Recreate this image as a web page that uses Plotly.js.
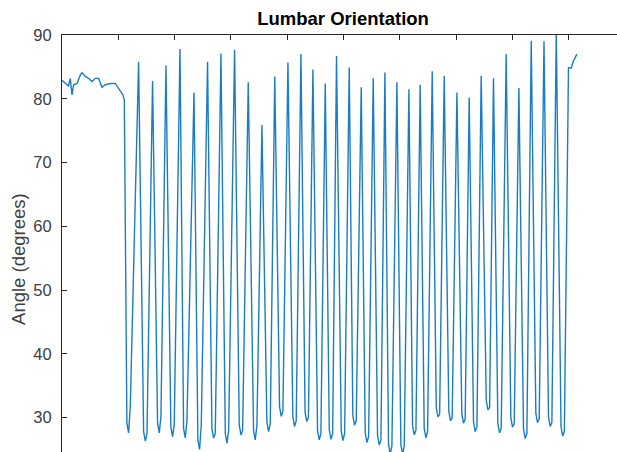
<!DOCTYPE html>
<html>
<head>
<meta charset="utf-8">
<script src="https://cdn.plot.ly/plotly-3.0.1.min.js"></script>
<style>
html,body{margin:0;padding:0;background:#fff;overflow:hidden;}
#chart{width:617px;height:452px;}
</style>
</head>
<body>
<div id="chart"></div>
<script>
// Time (arbitrary units, one top tick = 10) and angle (degrees)
const time = [
  0.00, 0.59, 1.17, 1.47, 1.78, 2.06, 2.66, 3.25, 3.55, 4.14, 4.72, 5.33, 5.91, 6.50, 7.10, 7.69, 8.58, 9.47, 10.05, 10.48, 10.83, 11.07,
  11.53, 11.83, 12.13, 13.61,
  14.50, 14.80, 15.10, 16.09,
  16.98, 17.28, 17.58, 18.47,
  19.34, 19.64, 19.94, 20.96,
  21.60, 21.90, 22.20, 23.45,
  24.14, 24.44, 24.74, 25.86,
  26.63, 26.93, 27.23, 28.24,
  29.01, 29.31, 29.61, 30.66,
  31.49, 31.79, 32.09, 33.09,
  34.03, 34.33, 34.63, 35.52,
  36.40, 36.70, 37.00, 37.80,
  38.65, 38.95, 39.25, 40.14,
  41.01, 41.31, 41.61, 42.45,
  43.18, 43.48, 43.78, 44.58,
  45.40, 45.70, 46.00, 46.77,
  47.48, 47.78, 48.08, 48.77,
  49.61, 49.91, 50.21, 51.03,
  51.67, 51.97, 52.27, 53.16,
  53.87, 54.17, 54.47, 55.29,
  56.06, 56.36, 56.66, 57.37,
  58.01, 58.31, 58.61, 59.50,
  60.20, 60.50, 60.80, 61.63,
  62.28, 62.58, 62.88, 63.63,
  64.35, 64.65, 64.95, 65.77,
  66.49, 66.79, 67.09, 67.90,
  68.72, 69.02, 69.32, 70.16,
  71.03, 71.33, 71.63, 72.34,
  73.11, 73.41, 73.71, 74.47,
  75.37, 75.67, 75.97, 76.66,
  77.43, 77.73, 78.03, 78.91,
  79.74, 80.04, 80.34, 81.17,
  81.99, 82.29, 82.59, 83.36,
  84.18, 84.48, 84.78, 85.63,
  86.43, 86.73, 87.03, 87.81,
  88.65, 88.95, 89.25, 89.98, 90.46, 90.81, 91.47
];
const angle = [
  82.9, 82.4, 82.0, 83.2, 80.6, 82.2, 82.4, 83.7, 84.1, 83.5, 83.2, 82.7, 83.2, 83.2, 81.8, 82.2, 82.4, 82.4, 81.6, 80.9, 80.6, 79.8,
  29.1, 27.6, 31.7, 85.8,
  27.8, 26.3, 27.5, 82.8,
  29.1, 27.6, 30.2, 85.2,
  28.5, 27.0, 28.9, 87.8,
  28.3, 26.8, 29.5, 81.0,
  26.5, 25.0, 28.8, 85.8,
  28.3, 26.8, 27.5, 87.1,
  27.5, 26.0, 28.0, 87.7,
  28.8, 27.3, 28.0, 82.6,
  28.0, 26.5, 28.8, 75.9,
  29.3, 27.8, 29.0, 83.5,
  31.7, 30.2, 31.0, 85.7,
  30.1, 28.6, 29.5, 87.0,
  30.9, 29.4, 30.0, 84.6,
  28.0, 26.5, 27.5, 82.4,
  28.1, 26.6, 27.5, 86.7,
  27.9, 26.4, 27.5, 84.9,
  30.3, 28.8, 29.5, 81.8,
  27.6, 26.1, 27.0, 83.2,
  27.2, 25.7, 26.5, 84.1,
  25.8, 24.3, 25.5, 82.6,
  25.8, 24.3, 25.5, 81.5,
  28.8, 27.3, 28.0, 82.2,
  28.3, 26.8, 27.8, 84.3,
  31.6, 30.1, 30.5, 83.6,
  31.0, 29.5, 30.0, 81.0,
  30.6, 29.1, 29.8, 80.2,
  29.3, 27.8, 28.5, 83.6,
  32.7, 31.2, 31.6, 83.2,
  29.1, 27.6, 28.3, 87.0,
  30.0, 28.5, 29.0, 81.7,
  28.2, 26.7, 27.5, 89.1,
  30.7, 29.2, 29.8, 89.0,
  30.1, 28.6, 29.2, 90.5,
  28.6, 27.1, 27.8, 84.9, 84.8, 85.8, 87.0
];
const xTicks = [10, 20, 30, 40, 50, 60, 70, 80, 90];
const yTicks = [30, 40, 50, 60, 70, 80, 90];
const yTickText = ["30", "40", "50", "60", "70", "80", "90"];

const axisColor = '#262626';
const font = 'Liberation Sans, Arial, Helvetica, sans-serif';

Plotly.newPlot('chart', [{
  x: time, y: angle, type: 'scatter', mode: 'lines',
  line: {color: '#1a7dc4', width: 1.4},
  hoverinfo: 'skip'
}], {
  width: 617, height: 452,
  margin: {l: 62, r: 0, t: 35, b: 0, pad: 0},
  paper_bgcolor: '#ffffff', plot_bgcolor: '#ffffff',
  showlegend: false,
  font: {family: font, color: axisColor},
  title: {
    text: '<b>Lumbar Orientation</b>',
    font: {family: font, size: 18.5, color: '#000000'},
    x: 0.556, xref: 'container', xanchor: 'center',
    y: 0.958, yref: 'container', yanchor: 'middle'
  },
  xaxis: {
    range: [0, 98.6], side: 'top',
    showline: true, linecolor: axisColor, linewidth: 1,
    ticks: 'inside', ticklen: 5, tickcolor: axisColor, tickwidth: 1,
    tickvals: xTicks, showticklabels: false,
    showgrid: false, zeroline: false, fixedrange: true
  },
  yaxis: {
    range: [24.6, 90],
    showline: true, linecolor: axisColor, linewidth: 1,
    ticks: 'inside', ticklen: 5, tickcolor: axisColor, tickwidth: 1,
    tickvals: yTicks, ticktext: yTickText,
    tickfont: {family: font, size: 16.5, color: '#404040'},
    ticklabelstandoff: 6,
    showgrid: false, zeroline: false, fixedrange: true
  },
  annotations: [{
    text: 'Angle (degrees)', textangle: -90,
    xref: 'paper', yref: 'paper',
    x: -0.0775, y: 0.463, xanchor: 'center', yanchor: 'middle',
    showarrow: false,
    font: {family: font, size: 18.5, color: '#404040'}
  }]
}, {staticPlot: true, displayModeBar: false});
</script>
</body>
</html>
